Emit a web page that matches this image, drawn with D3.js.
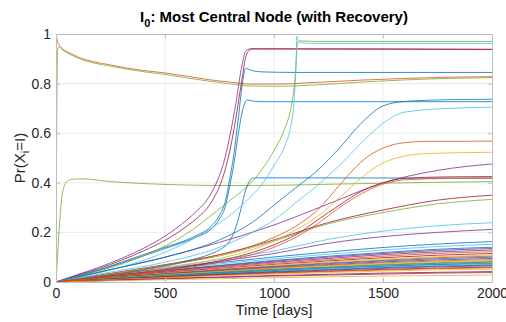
<!DOCTYPE html>
<html>
<head>
<meta charset="utf-8">
<script src="https://cdn.jsdelivr.net/npm/d3@7"></script>
<style>
  body { margin: 0; background: #fff; }
  svg { display: block; font-family: "Liberation Sans", Arial, Helvetica, sans-serif; }
</style>
</head>
<body>
<div id="chart"></div>
<script>
// MATLAB default line colours
const palette = ["#0072BD", "#D95319", "#EDB120", "#7E2F8E", "#77AC30", "#4DBEEE", "#A2142F"];
const xTicks = [0, 500, 1000, 1500, 2000];
const yTicks = [0, 0.2, 0.4, 0.6, 0.8, 1];

// nodes with a shape of their own: [time, probability] points
const orangeTop = [[0,1],[5,0.975],[15,0.955],[30,0.94],[60,0.925],[100,0.908],[250,0.875],[400,0.853],[500,0.843],[600,0.83],[700,0.816],[800,0.806],[900,0.798],[1000,0.798],[1200,0.805],[1400,0.814],[1600,0.821],[1800,0.826],[2000,0.828]];
const greenTop = [[0,0],[3,0.6],[8,0.94],[15,0.948],[30,0.936],[60,0.92],[100,0.903],[250,0.87],[400,0.848],[500,0.837],[600,0.823],[700,0.81],[800,0.799],[900,0.79],[1000,0.789],[1200,0.795],[1400,0.806],[1600,0.815],[1800,0.821],[2000,0.824]];
const greenEarly = [[0,0],[8,0.12],[15,0.22],[30,0.36],[50,0.405],[80,0.415],[120,0.416],[250,0.405],[400,0.397],[600,0.391],[800,0.389],[1000,0.39],[1300,0.395],[1600,0.4],[2000,0.405]];
const purpleFast = [[0,0],[100,0.03],[200,0.06],[300,0.095],[400,0.135],[500,0.185],[600,0.25],[650,0.29],[700,0.34],[725,0.38],[750,0.43],[775,0.5],[800,0.6],[825,0.72],[850,0.86],[870,0.93],[890,0.94],[950,0.94],[2000,0.938]];
const redFast = [[0,0],[100,0.028],[200,0.055],[300,0.088],[400,0.125],[500,0.168],[600,0.225],[650,0.26],[700,0.305],[725,0.34],[750,0.385],[775,0.45],[800,0.54],[825,0.66],[850,0.8],[875,0.92],[900,0.94],[950,0.94],[2000,0.938]];
const blueFastA = [[0,0],[100,0.025],[200,0.05],[300,0.08],[400,0.11],[500,0.14],[600,0.17],[650,0.19],[700,0.215],[750,0.27],[775,0.32],[800,0.43],[815,0.51],[835,0.65],[855,0.8],[870,0.862],[890,0.855],[950,0.847],[1100,0.845],[2000,0.845]];
const blueFastB = [[0,0],[100,0.024],[200,0.048],[300,0.076],[400,0.105],[500,0.135],[600,0.165],[650,0.183],[700,0.205],[750,0.255],[775,0.3],[800,0.4],[815,0.47],[835,0.59],[855,0.69],[878,0.734],[900,0.73],[950,0.727],[2000,0.727]];
const blueStep = [[0,0],[100,0.01],[200,0.022],[300,0.035],[400,0.05],[500,0.065],[600,0.085],[700,0.11],[750,0.13],[800,0.17],[825,0.22],[850,0.3],[870,0.37],[890,0.41],[910,0.42],[1000,0.42],[2000,0.418]];
const greenLate = [[0,0],[100,0.022],[200,0.045],[300,0.072],[400,0.105],[500,0.145],[600,0.195],[700,0.26],[800,0.33],[900,0.405],[950,0.46],[1000,0.53],[1050,0.62],[1075,0.69],[1090,0.77],[1100,0.86],[1106,0.95],[1112,0.97],[1125,0.972],[1200,0.97],[2000,0.97]];
const cyanLate = [[0,0],[100,0.018],[200,0.038],[300,0.06],[400,0.087],[500,0.12],[600,0.16],[700,0.21],[800,0.27],[900,0.35],[950,0.4],[1000,0.47],[1050,0.55],[1075,0.62],[1090,0.71],[1100,0.85],[1105,0.99],[1110,0.975],[1125,0.965],[1200,0.962],[2000,0.962]];
const blueSlow = [[0,0],[250,0.05],[500,0.1],[750,0.17],[900,0.24],[1000,0.31],[1100,0.38],[1200,0.45],[1300,0.54],[1400,0.64],[1500,0.71],[1600,0.728],[1800,0.735],[2000,0.737]];
const cyanSlow = [[0,0],[250,0.04],[500,0.08],[750,0.14],[900,0.2],[1000,0.25],[1100,0.32],[1200,0.39],[1300,0.47],[1400,0.56],[1500,0.64],[1600,0.685],[1800,0.7],[2000,0.705]];
const orangeSlow = [[0,0],[250,0.03],[500,0.065],[750,0.11],[900,0.145],[1000,0.18],[1100,0.225],[1200,0.29],[1300,0.39],[1350,0.44],[1400,0.485],[1500,0.54],[1600,0.562],[1700,0.567],[2000,0.568]];
const yellowSlow = [[0,0],[250,0.025],[500,0.055],[750,0.095],[900,0.13],[1000,0.165],[1100,0.21],[1200,0.265],[1300,0.34],[1350,0.38],[1400,0.42],[1500,0.48],[1600,0.508],[1700,0.518],[2000,0.523]];
const redSlow = [[0,0],[250,0.025],[500,0.05],[750,0.085],[1000,0.15],[1100,0.19],[1200,0.25],[1300,0.31],[1400,0.365],[1500,0.4],[1600,0.418],[1800,0.424],[2000,0.425]];
const orangeSlowB = [[0,0],[250,0.022],[500,0.047],[750,0.08],[1000,0.14],[1100,0.18],[1200,0.235],[1300,0.3],[1400,0.355],[1500,0.395],[1600,0.412],[1800,0.418],[2000,0.42]];

const shapedLines = [orangeTop, greenTop, greenEarly, purpleFast, redFast, blueFastA, blueFastB, blueStep, greenLate, cyanLate, blueSlow, cyanSlow, orangeSlow, yellowSlow, redSlow, orangeSlowB];
const shapedColors = [1, 4, 4, 3, 6, 0, 0, 0, 4, 5, 0, 5, 1, 2, 6, 1];

// slower nodes, sampled on a common time grid
const gridTimes = [0, 250, 500, 750, 1000, 1250, 1500, 1750, 2000];
const gridLines = [
  [0, .05, .10, .16, .23, .315, .40, .45, .476],
  [0, .035, .07, .11, .17, .24, .29, .33, .35],
  [0, .033, .068, .105, .165, .235, .28, .315, .333],
  [0, .03, .06, .09, .125, .172, .205, .227, .239],
  [0, .028, .055, .083, .115, .156, .183, .2, .212],
  [0, .028, .054, .078, .101, .121, .139, .153, .163],
  [0, .026, .050, .073, .094, .112, .129, .143, .152],
  [0, .024, .046, .067, .087, .104, .119, .132, .140],
  [0, .023, .045, .065, .084, .100, .115, .127, .135],
  [0, .022, .043, .062, .080, .095, .110, .121, .129],
  [0, .021, .040, .059, .076, .090, .104, .115, .122],
  [0, .020, .038, .055, .071, .085, .098, .108, .115],
  [0, .019, .036, .052, .068, .081, .093, .102, .109],
  [0, .018, .034, .050, .064, .077, .088, .098, .104],
  [0, .017, .033, .048, .062, .074, .085, .094, .100],
  [0, .016, .031, .046, .059, .070, .081, .089, .095],
  [0, .015, .030, .043, .056, .067, .077, .085, .090],
  [0, .015, .029, .042, .054, .064, .074, .082, .087],
  [0, .014, .027, .040, .051, .061, .071, .078, .083],
  [0, .014, .026, .038, .050, .059, .068, .075, .080],
  [0, .013, .025, .037, .048, .057, .065, .072, .077],
  [0, .013, .024, .036, .046, .055, .063, .070, .074],
  [0, .012, .023, .034, .044, .053, .060, .067, .071],
  [0, .012, .022, .033, .042, .050, .058, .064, .068],
  [0, .011, .021, .031, .040, .048, .055, .061, .065],
  [0, .010, .020, .029, .037, .044, .051, .056, .060],
  [0, .010, .019, .027, .035, .042, .048, .054, .057],
  [0, .009, .017, .025, .032, .038, .044, .049, .052],
  [0, .007, .014, .020, .026, .031, .036, .039, .042],
  [0, .006, .013, .018, .024, .028, .032, .036, .038],
  [0, .005, .009, .013, .017, .021, .024, .026, .028]
];
const gridColors = [3, 6, 4, 5, 3, 0, 5, 0, 3, 3, 1, 6, 2, 1, 0, 3, 1, 2, 4, 0, 4, 0, 5, 0, 3, 6, 1, 2, 6, 3, 2];

const width = 506, height = 322;
const mLeft = 56, mRight = 492, mTop = 34, mBottom = 282;

const svg = d3.select("#chart").append("svg")
  .attr("width", width)
  .attr("height", height);

const x = d3.scaleLinear().domain([0, 2000]).range([mLeft, mRight]);
const y = d3.scaleLinear().domain([0, 1]).range([mBottom, mTop]);

// grid
svg.append("g").selectAll("line").data(xTicks.slice(1, -1)).enter().append("line")
  .attr("x1", d => x(d)).attr("x2", d => x(d))
  .attr("y1", mTop).attr("y2", mBottom)
  .attr("stroke", "#ebebeb").attr("stroke-width", 1);
svg.append("g").selectAll("line").data(yTicks.slice(1, -1)).enter().append("line")
  .attr("x1", mLeft).attr("x2", mRight)
  .attr("y1", d => y(d)).attr("y2", d => y(d))
  .attr("stroke", "#ebebeb").attr("stroke-width", 1);

// lines
svg.append("clipPath").attr("id", "clip").append("rect")
  .attr("x", mLeft).attr("y", mTop - 1).attr("width", mRight - mLeft).attr("height", mBottom - mTop + 1);

const line = d3.line()
  .x(d => x(d[0]))
  .y(d => y(d[1]))
  .curve(d3.curveMonotoneX);

const plot = svg.append("g").attr("clip-path", "url(#clip)");

gridLines.forEach((vals, i) => {
  plot.append("path")
    .attr("d", line(vals.map((v, j) => [gridTimes[j], v])))
    .attr("fill", "none")
    .attr("stroke", palette[gridColors[i]])
    .attr("stroke-width", 0.8);
});

shapedLines.forEach((pts, i) => {
  plot.append("path")
    .attr("d", line(pts))
    .attr("fill", "none")
    .attr("stroke", palette[shapedColors[i]])
    .attr("stroke-width", 0.8);
});

// axes (ticks inside, box on)
const axisColor = "#bdbdbd";
const textColor = "#262626";

function styleAxis(g) {
  g.select(".domain").attr("stroke", axisColor);
  g.selectAll(".tick line").attr("stroke", axisColor);
  g.selectAll(".tick text").attr("fill", textColor).style("font-size", "14px");
}

svg.append("g")
  .attr("transform", "translate(0," + mBottom + ")")
  .call(d3.axisBottom(x).tickValues(xTicks).tickSize(-4).tickSizeOuter(0).tickPadding(6).tickFormat(d3.format("d")))
  .call(styleAxis);

svg.append("g")
  .attr("transform", "translate(" + mLeft + ",0)")
  .call(d3.axisLeft(y).tickValues(yTicks).tickSize(-4).tickSizeOuter(0).tickPadding(5).tickFormat(d => d === 0 || d === 1 ? d3.format("d")(d) : d3.format(".1f")(d)))
  .call(styleAxis);

svg.append("g")
  .attr("transform", "translate(0," + mTop + ")")
  .call(d3.axisTop(x).tickValues(xTicks).tickSize(-4).tickSizeOuter(0).tickFormat(""))
  .call(styleAxis);

svg.append("g")
  .attr("transform", "translate(" + mRight + ",0)")
  .call(d3.axisRight(y).tickValues(yTicks).tickSize(-4).tickSizeOuter(0).tickFormat(""))
  .call(styleAxis);

// title
const title = svg.append("text")
  .attr("x", (mLeft + mRight) / 2)
  .attr("y", 22)
  .attr("text-anchor", "middle")
  .attr("fill", "#000")
  .style("font-size", "15px")
  .style("font-weight", "bold");
title.append("tspan").text("I");
title.append("tspan").attr("dy", 5).style("font-size", "11px").text("0");
title.append("tspan").attr("dy", -5).text(": Most Central Node (with Recovery)");

// axis labels
svg.append("text")
  .attr("x", (mLeft + mRight) / 2)
  .attr("y", 315)
  .attr("text-anchor", "middle")
  .attr("fill", textColor)
  .style("font-size", "15px")
  .text("Time [days]");

const ylab = svg.append("text")
  .attr("transform", "translate(25," + ((mTop + mBottom) / 2) + ") rotate(-90)")
  .attr("text-anchor", "middle")
  .attr("fill", textColor)
  .style("font-size", "15px");
ylab.append("tspan").text("Pr(X");
ylab.append("tspan").attr("dy", 4).style("font-size", "11px").text("i");
ylab.append("tspan").attr("dy", -4).text("=I)");
</script>
</body>
</html>
